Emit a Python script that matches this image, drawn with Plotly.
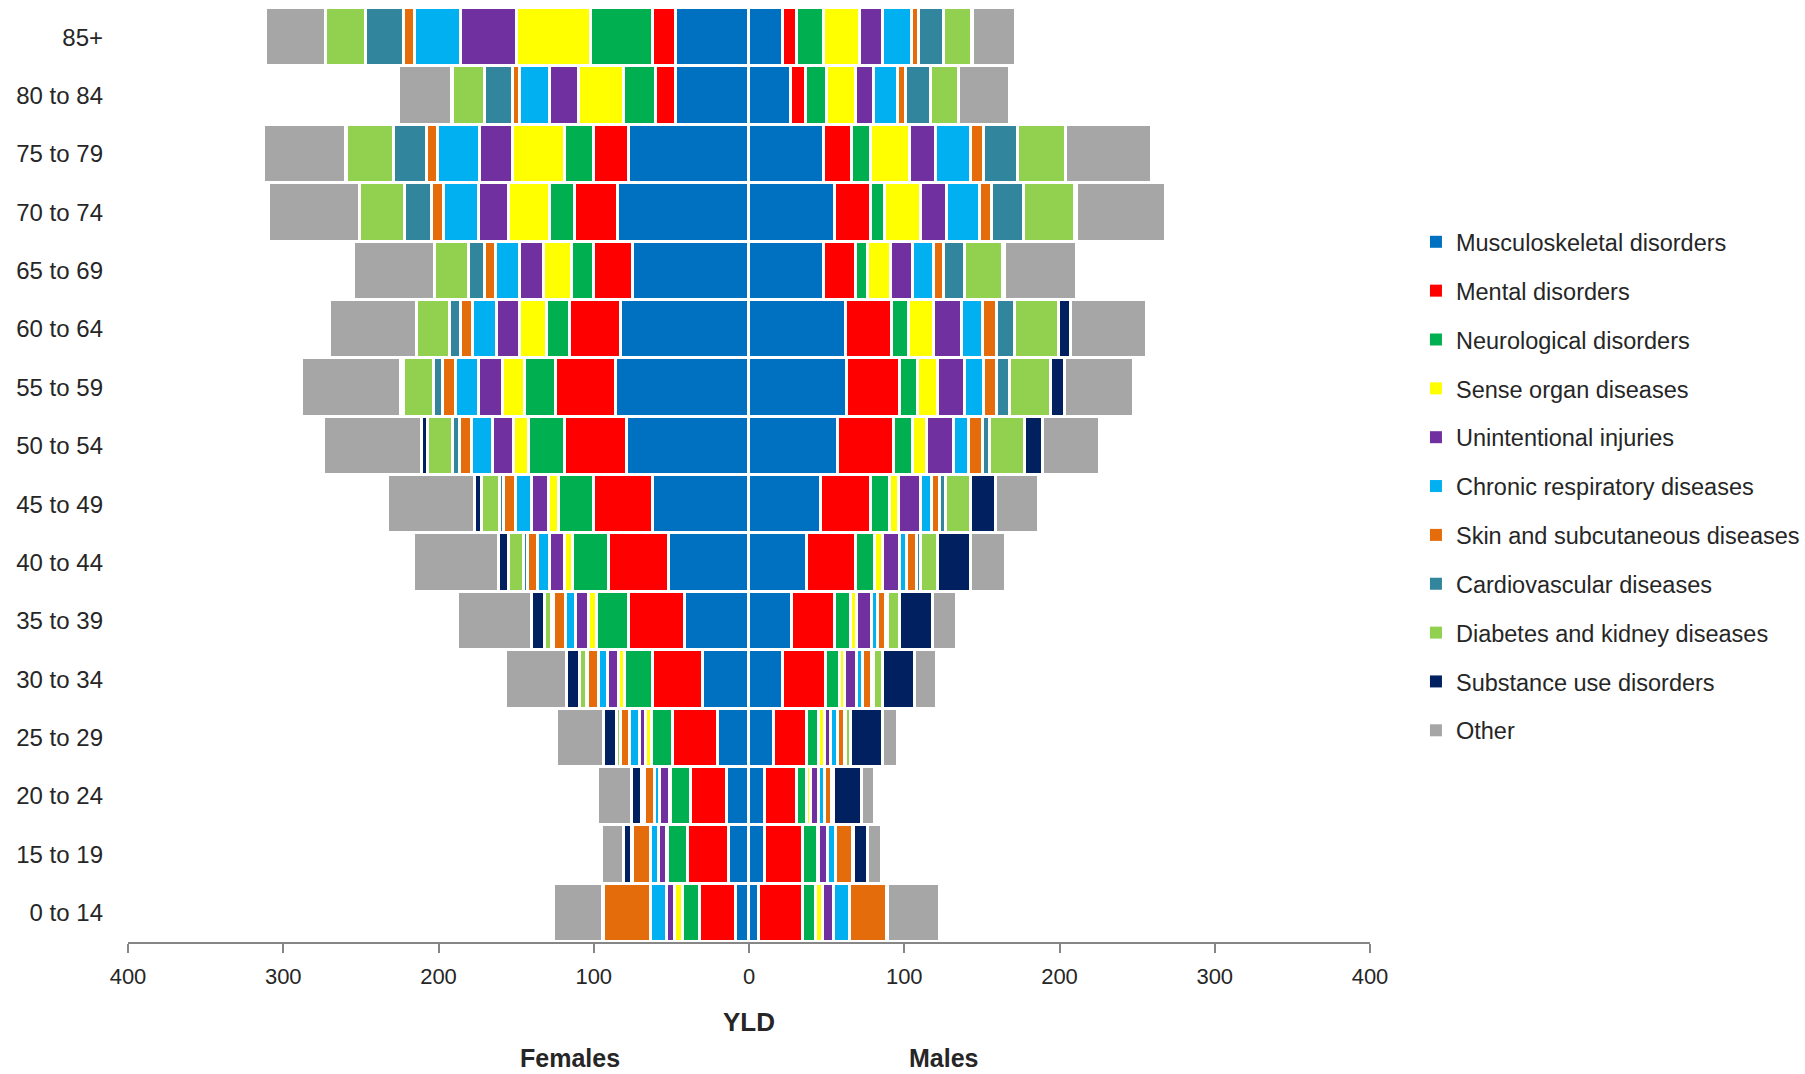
import plotly.graph_objects as go

ages = ["0 to 14", "15 to 19", "20 to 24", "25 to 29", "30 to 34", "35 to 39",
        "40 to 44", "45 to 49", "50 to 54", "55 to 59", "60 to 64", "65 to 69",
        "70 to 74", "75 to 79", "80 to 84", "85+"]

causes = ["Musculoskeletal disorders", "Mental disorders", "Neurological disorders",
          "Sense organ diseases", "Unintentional injuries", "Chronic respiratory diseases",
          "Skin and subcutaneous diseases", "Cardiovascular diseases",
          "Diabetes and kidney diseases", "Substance use disorders", "Other"]

colors = ["#0070C0", "#FF0000", "#00B050", "#FFFF00", "#7030A0", "#00B0F0",
          "#E46C0A", "#31859C", "#92D050", "#002060", "#A6A6A6"]

# Females (YLD), by age group (0 to 14 ... 85+)
f_musculoskeletal = [8.2, 12.9, 14.4, 19.9, 29.6, 41.2, 51.3, 61.8, 78.3, 85.6, 82.2, 74.4, 84.7, 77.2, 47.0, 47.0]
f_mental = [23.3, 26.4, 22.9, 28.8, 32.2, 36.0, 38.8, 37.9, 40.5, 38.6, 33.0, 25.3, 27.5, 22.5, 12.8, 14.8]
f_neurological = [10.8, 12.8, 13.1, 13.9, 18.2, 20.6, 23.2, 22.6, 22.8, 20.4, 14.8, 14.6, 15.9, 18.9, 20.4, 39.9]
f_sense = [5.3, 0.6, 0.7, 3.9, 3.9, 5.0, 5.3, 6.6, 9.6, 13.7, 17.4, 17.6, 26.6, 33.5, 29.2, 47.6]
f_injuries = [5.4, 5.0, 6.0, 3.8, 7.0, 8.5, 9.5, 10.7, 13.7, 15.4, 14.8, 15.5, 19.0, 21.4, 18.7, 36.0]
f_respiratory = [9.9, 5.2, 3.6, 6.1, 5.8, 6.7, 7.7, 10.5, 13.6, 15.3, 15.4, 15.8, 22.6, 26.6, 19.3, 29.6]
f_skin = [30.4, 11.5, 6.0, 5.8, 6.9, 7.5, 6.8, 7.6, 7.9, 8.3, 7.7, 6.7, 7.7, 7.3, 4.9, 7.3]
f_cardio = [0.3, 0.3, 0.5, 0.5, 1.0, 1.3, 2.6, 2.5, 4.3, 5.8, 7.1, 10.7, 17.4, 21.0, 17.6, 24.7]
f_diabetes = [0.3, 0.5, 1.7, 2.4, 4.4, 4.5, 9.2, 11.6, 16.3, 19.3, 21.2, 21.5, 28.9, 30.7, 21.0, 25.3]
f_substance = [0.2, 5.0, 6.4, 8.0, 8.1, 8.3, 6.7, 4.7, 3.5, 2.0, 0.3, 0.3, 0.3, 0.3, 0.3, 0.3]
f_other = [31.2, 14.6, 21.7, 30.3, 39.3, 47.7, 54.9, 56.0, 63.0, 63.5, 55.7, 51.8, 58.3, 53.3, 34.0, 38.5]

# Males (YLD), by age group (0 to 14 ... 85+)
m_musculoskeletal = [6.4, 10.3, 10.3, 16.1, 22.1, 27.9, 37.5, 46.3, 57.3, 63.1, 62.2, 48.3, 55.6, 48.3, 27.0, 22.1]
m_mental = [28.3, 24.4, 20.6, 21.4, 27.4, 27.7, 31.4, 32.2, 36.0, 34.1, 30.0, 20.6, 22.9, 17.8, 9.7, 8.8]
m_neurological = [8.6, 9.7, 6.6, 7.8, 8.9, 10.2, 12.4, 12.0, 12.4, 11.6, 10.8, 7.7, 9.2, 12.4, 13.5, 17.4]
m_sense = [4.5, 0.5, 2.6, 3.8, 3.6, 3.9, 4.9, 5.8, 8.8, 13.0, 16.3, 15.0, 23.0, 25.5, 18.7, 23.3]
m_injuries = [6.9, 6.1, 5.2, 3.9, 7.7, 9.7, 11.0, 14.4, 17.6, 17.2, 17.8, 14.1, 16.7, 16.3, 11.5, 14.6]
m_respiratory = [10.3, 4.8, 3.8, 4.5, 3.9, 3.8, 4.7, 7.1, 9.7, 12.4, 13.5, 13.6, 21.2, 22.6, 15.7, 18.7]
m_skin = [23.8, 11.1, 4.3, 4.5, 5.8, 5.2, 6.0, 5.5, 8.8, 8.4, 9.2, 6.2, 7.8, 8.5, 4.9, 4.7]
m_cardio = [0.3, 0.3, 0.4, 0.5, 0.8, 1.0, 2.8, 3.9, 4.7, 8.4, 11.4, 13.5, 20.6, 21.7, 16.3, 15.9]
m_diabetes = [0.3, 0.5, 0.9, 3.3, 5.8, 7.8, 11.1, 15.7, 22.5, 26.3, 28.3, 24.5, 33.0, 31.1, 17.8, 18.2]
m_substance = [0.2, 8.9, 18.0, 20.4, 20.8, 21.2, 21.1, 16.0, 11.6, 8.8, 7.7, 1.5, 1.0, 0.3, 0.3, 0.5]
m_other = [33.3, 8.8, 8.4, 9.9, 14.0, 15.6, 22.5, 28.1, 36.5, 44.6, 49.1, 46.1, 57.8, 54.8, 32.6, 27.6]

x_ticks = [-400, -300, -200, -100, 0, 100, 200, 300, 400]
x_ticktext = ["400", "300", "200", "100", "0", "100", "200", "300", "400"]

female = [f_musculoskeletal, f_mental, f_neurological, f_sense, f_injuries, f_respiratory,
          f_skin, f_cardio, f_diabetes, f_substance, f_other]
male = [m_musculoskeletal, m_mental, m_neurological, m_sense, m_injuries, m_respiratory,
        m_skin, m_cardio, m_diabetes, m_substance, m_other]

FONT = "Liberation Sans, Arial, sans-serif"
TXT = "#262626"

fig = go.Figure()

# legend entries (clean swatches)
for i, (name, col) in enumerate(zip(causes, colors)):
    fig.add_trace(go.Bar(x=[None], y=[ages[0]], orientation="h", name=name,
                         marker=dict(color=col, line=dict(width=0)),
                         legendgroup=f"g{i}", showlegend=True, hoverinfo="skip"))

for i, (name, col) in enumerate(zip(causes, colors)):
    fig.add_trace(go.Bar(y=ages, x=[-v for v in female[i]], orientation="h", name=name,
                         marker=dict(color=col, line=dict(color="white", width=3)),
                         legendgroup=f"g{i}", showlegend=False,
                         customdata=female[i],
                         hovertemplate="Females, %{y}<br>" + name + ": %{customdata}<extra></extra>"))
    fig.add_trace(go.Bar(y=ages, x=male[i], orientation="h", name=name,
                         marker=dict(color=col, line=dict(color="white", width=3)),
                         legendgroup=f"g{i}", showlegend=False,
                         hovertemplate="Males, %{y}<br>" + name + ": %{x}<extra></extra>"))

fig.update_layout(
    width=1805, height=1074,
    margin=dict(l=128, r=435, t=8, b=132, autoexpand=False),
    paper_bgcolor="white", plot_bgcolor="white",
    barmode="relative", bargap=0.0,
    font=dict(family=FONT, color=TXT, size=24),
    xaxis=dict(range=[-400, 400], tickmode="array", tickvals=x_ticks, ticktext=x_ticktext,
               showline=True, linecolor="#868686", linewidth=2,
               ticks="outside", ticklen=9, tickwidth=2, tickcolor="#868686",
               ticklabelstandoff=5,
               showgrid=False, zeroline=False,
               tickfont=dict(size=22, color=TXT, family=FONT),
               title=dict(text="<b>YLD</b>", font=dict(size=26, color=TXT, family=FONT), standoff=24),
               fixedrange=True),
    yaxis=dict(type="category", categoryorder="array", categoryarray=ages,
               showgrid=False, showline=False,
               zeroline=False, ticks="", ticklabelstandoff=24,
               tickfont=dict(size=24, color=TXT, family=FONT), fixedrange=True),
    legend=dict(x=1.0370, xanchor="left", y=0.7730, yanchor="top",
                traceorder="grouped", tracegroupgap=15.3,
                font=dict(size=23.5, color=TXT, family=FONT),
                bgcolor="rgba(0,0,0,0)"),
    annotations=[
        dict(text="<b>Females</b>", x=0.3556, y=-0.1245, xref="paper", yref="paper",
             xanchor="center", yanchor="middle", showarrow=False, height=26, valign="middle",
             font=dict(size=25, color=TXT, family=FONT)),
        dict(text="<b>Males</b>", x=0.6562, y=-0.1245, xref="paper", yref="paper",
             xanchor="center", yanchor="middle", showarrow=False, height=26, valign="middle",
             font=dict(size=25, color=TXT, family=FONT)),
    ],
)

fig.write_html("out.html", config={"displayModeBar": False},
               post_script="document.body.style.margin='0px';")
